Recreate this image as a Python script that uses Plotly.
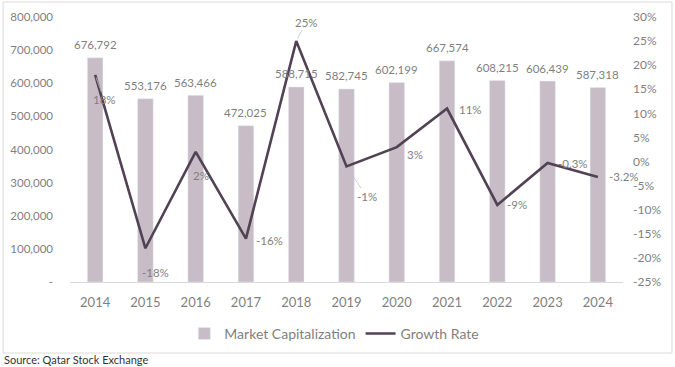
import plotly.graph_objects as go

years = ["2014", "2015", "2016", "2017", "2018", "2019", "2020", "2021", "2022", "2023", "2024"]
market_cap = [676792, 553176, 563466, 472025, 588715, 582745, 602199, 667574, 608215, 606439, 587318]
growth = [18, -18, 2, -16, 25, -1, 3, 11, -9, -0.3, -3.2]
growth_labels = ["18%", "-18%", "2%", "-16%", "25%", "-1%", "3%", "11%", "-9%", "-0.3%", "-3.2%"]

left_ticks = [0, 100000, 200000, 300000, 400000, 500000, 600000, 700000, 800000]
left_tick_text = ["-", "100,000", "200,000", "300,000", "400,000", "500,000", "600,000", "700,000", "800,000"]
right_ticks = [-25, -20, -15, -10, -5, 0, 5, 10, 15, 20, 25, 30]
right_tick_text = [f"{t}%" for t in right_ticks]

# label offsets (pixels, relative to the point) and whether a leader line is shown
growth_label_offsets = [(9, 25), (10, 24), (5, 24), (24, 2), (10, -19), (20, 30),
                        (18, 7), (23, 1), (20, 0), (25, 1), (26, 0)]
growth_leader = [True, True, False, False, True, True, False, False, False, False, False]

FONT = "Lato, 'Open Sans', sans-serif"
GREY = "#7f7f7f"
BAR = "#c8bcc6"
LINE = "#514254"

fig = go.Figure()
fig.add_trace(go.Bar(x=years, y=market_cap, name="Market Capitalization",
                     marker=dict(color=BAR), yaxis="y"))
fig.add_trace(go.Scatter(x=years, y=growth, name="Growth Rate", mode="lines",
                         line=dict(color=LINE, width=2.6), yaxis="y2"))

ann = []
for i, v in enumerate(market_cap):
    ann.append(dict(x=i, y=v, xref="x", yref="y", text=f"{v:,}", showarrow=False,
                    yshift=13, font=dict(family=FONT, size=11.5, color=GREY)))
for i, (v, t, (dx, dy), lead) in enumerate(zip(growth, growth_labels, growth_label_offsets, growth_leader)):
    ann.append(dict(x=i, y=v, xref="x", yref="y2", text=t, showarrow=True,
                    ax=dx, ay=dy, arrowhead=0, arrowwidth=0.8, standoff=3,
                    arrowcolor="#bfbfbf" if lead else "rgba(0,0,0,0)",
                    font=dict(family=FONT, size=11.5, color=GREY)))
ann.append(dict(x=-0.123, y=-0.292, xref="paper", yref="paper", xanchor="left", yanchor="middle",
                text="Source: Qatar Stock Exchange", showarrow=False,
                font=dict(family=FONT, size=11, color="#333333")))

fig.update_layout(
    width=675, height=367,
    margin=dict(l=70, r=52, t=17, b=85, autoexpand=False),
    paper_bgcolor="white", plot_bgcolor="white",
    font=dict(family=FONT, color=GREY),
    bargap=0.69,
    showlegend=True,
    legend=dict(orientation="h", xref="paper", yref="paper", x=0.478, y=-0.196,
                xanchor="center", yanchor="middle", font=dict(family=FONT, size=14, color=GREY),
                itemwidth=30, tracegroupgap=0),
    xaxis=dict(type="category", range=[-0.5, 10.5], autorange=False, showgrid=False,
               showline=True, linecolor="#d9d9d9", linewidth=1, automargin=False,
               ticks="", tickfont=dict(family=FONT, size=13, color=GREY), ticklabelstandoff=8),
    yaxis=dict(range=[0, 800000], tickvals=left_ticks, ticktext=left_tick_text, showgrid=False,
               zeroline=False, ticks="", tickfont=dict(family=FONT, size=11.5, color=GREY),
               ticklabelstandoff=16, automargin=False),
    yaxis2=dict(range=[-25, 30], overlaying="y", side="right", tickvals=right_ticks,
                ticktext=right_tick_text, showgrid=False, zeroline=False, ticks="",
                tickfont=dict(family=FONT, size=12, color=GREY), ticklabelstandoff=9,
                automargin=False),
    annotations=ann,
    shapes=[dict(type="rect", xref="paper", yref="paper", x0=-0.121, x1=1.0886, y0=-0.268, y1=1.0566,
                 line=dict(color="#d9d9d9", width=1), fillcolor="rgba(0,0,0,0)", layer="below")],
)

fig.write_html("out.html", config={"displayModeBar": False},
               post_script="document.body.style.margin='0';")
